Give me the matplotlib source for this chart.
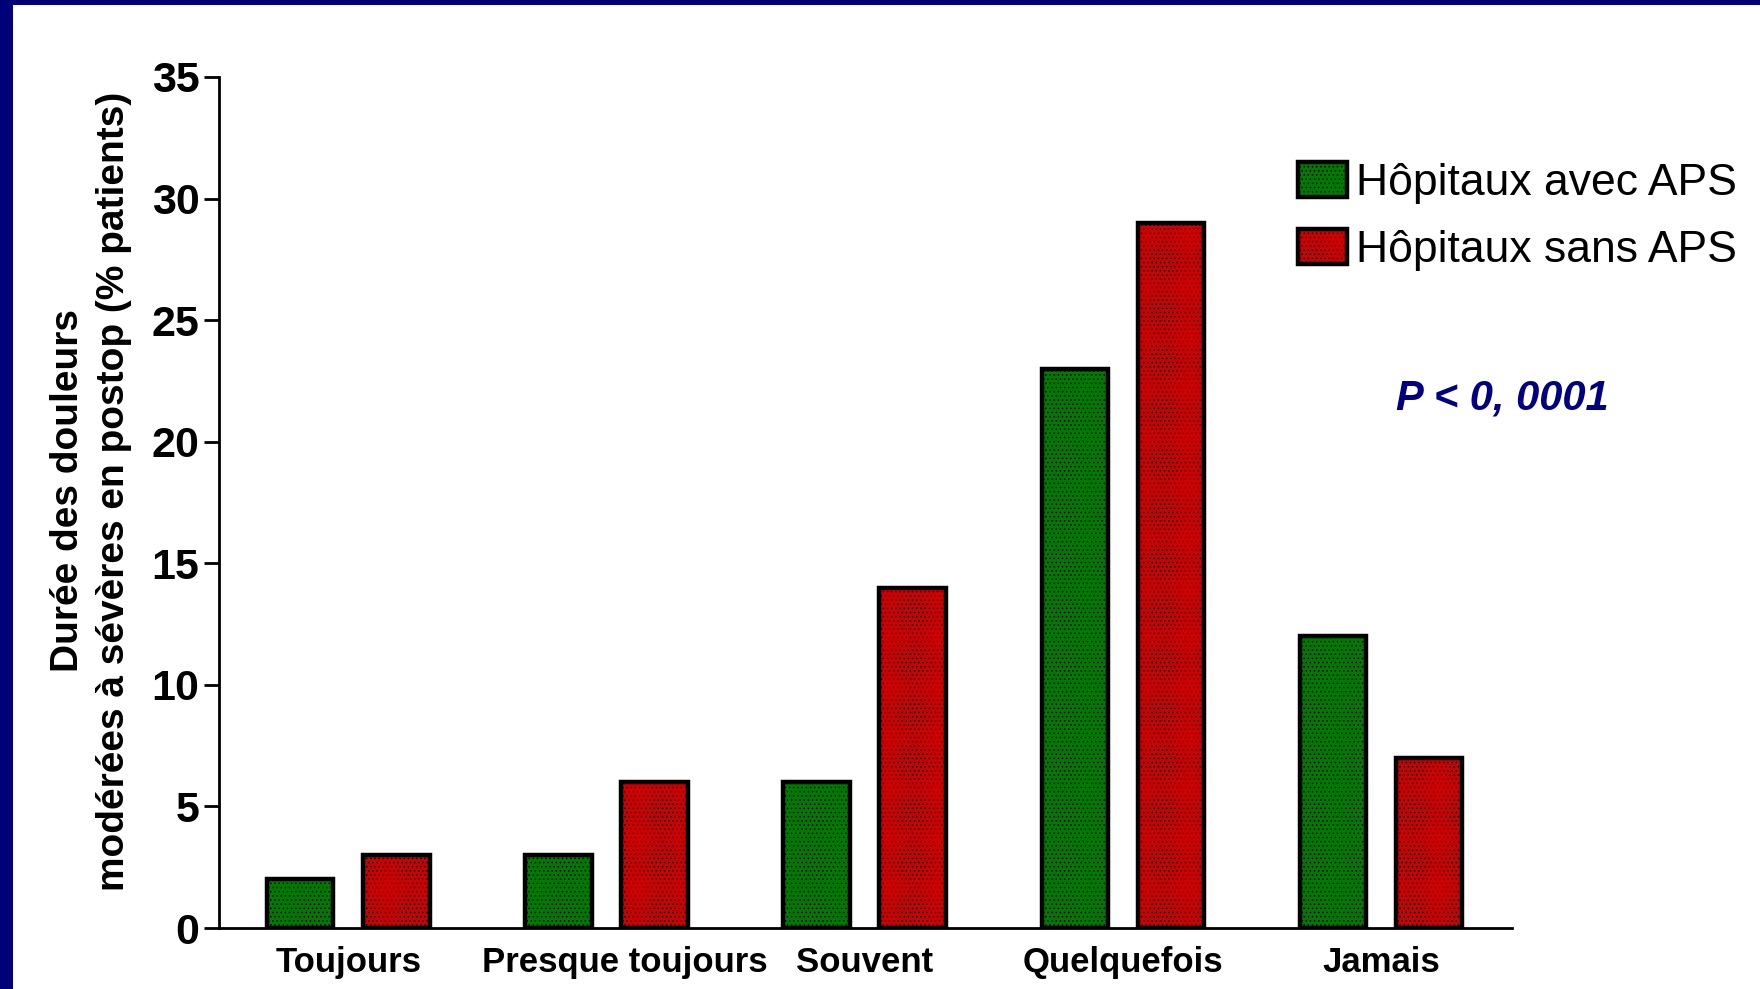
import matplotlib.pyplot as plt
import matplotlib.transforms as mtransforms
from matplotlib.patches import Rectangle
import numpy as np

# Durée des douleurs modérées à sévères en postop (% patients)
categories = ["Toujours", "Presque toujours", "Souvent", "Quelquefois", "Jamais"]
avec_aps = [2, 3, 6, 23, 12]
sans_aps = [3, 6, 14, 29, 7]
noms = ["Hôpitaux avec APS", "Hôpitaux sans APS"]
yticks = [0, 5, 10, 15, 20, 25, 30, 35]

plt.rcParams['font.family'] = ['Liberation Sans', 'DejaVu Sans']
plt.rcParams['hatch.linewidth'] = 0.6

fig = plt.figure(figsize=(17.6, 9.89), dpi=100)
fig.patch.set_facecolor("#000078")
# fond blanc de la diapositive
fig.patches.append(Rectangle((13/1760, 0), 1, 1 - 5/989, transform=fig.transFigure,
                             facecolor="white", edgecolor="none", zorder=-5))

ax = fig.add_axes([219/1760, 1 - 928/989, (1512-219)/1760, (928-77)/989])
ax.set_facecolor("none")

x = np.arange(len(categories))
w = 0.257
ax.bar(x - 0.187, avec_aps, w, color="#007a00", edgecolor="black", linewidth=3.2,
       hatch="....", label=noms[0], zorder=3)
ax.bar(x + 0.185, sans_aps, w, color="#d00000", edgecolor="black", linewidth=3.2,
       hatch="....", label=noms[1], zorder=3)

ax.set_xlim(-0.502, 4.507)
ax.set_ylim(0, 35)
ax.set_yticks(yticks)
ax.set_xticks(x)
ax.set_xticklabels(categories, fontsize=25, fontweight="bold")
ax.tick_params(axis="x", length=0, pad=13)
ax.tick_params(axis="y", length=11, width=2, pad=3, labelsize=31)
for t in ax.get_yticklabels():
    t.set_fontweight("bold")
# léger décalage du libellé « Presque toujours »
lab = ax.get_xticklabels()[1]
lab.set_transform(lab.get_transform() + mtransforms.ScaledTranslation(0.18, 0, fig.dpi_scale_trans))

for s in ["top", "right"]:
    ax.spines[s].set_visible(False)
for s in ["left", "bottom"]:
    ax.spines[s].set_linewidth(2)

fig.text(91/1760, 1 - 491/989, "Durée des douleurs\nmodérées à sévères en postop (% patients)",
         rotation=90, ha="center", va="center", multialignment="center",
         fontsize=28, fontweight="bold", linespacing=1.35)

leg = ax.legend(loc="upper left", bbox_to_anchor=(1276/1760, 1 - 140/989),
                bbox_transform=fig.transFigure, frameon=False, fontsize=32,
                handlelength=1.1, handleheight=0.83, handletextpad=0.2,
                labelspacing=0.56, borderpad=0)

fig.text(1502/1760, 1 - 398/989, "P < 0, 0001", color="#000080", fontsize=30,
         fontweight="bold", fontstyle="italic", ha="center", va="center")

fig.savefig("out.png", dpi=100, facecolor=fig.get_facecolor())
